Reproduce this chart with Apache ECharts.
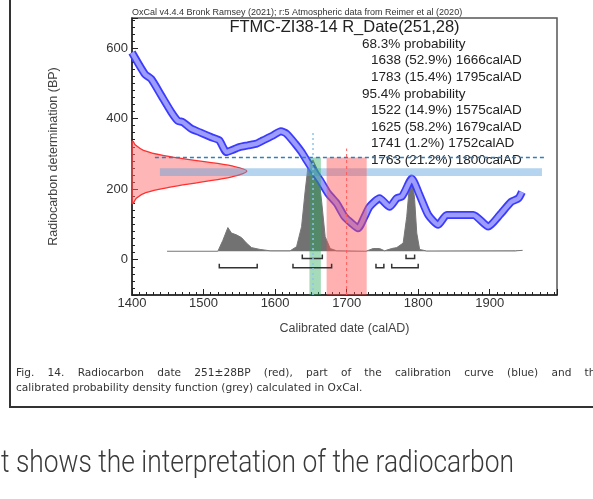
<!DOCTYPE html>
<html>
<head>
<meta charset="utf-8">
<script src="https://cdn.jsdelivr.net/npm/echarts@6/dist/echarts.min.js"></script>
<style>
html, body { margin: 0; padding: 0; background: #fff; overflow: hidden; }
#chart { position: absolute; left: 0; top: 0; width: 593px; height: 499px; }
#frame { position: absolute; left: 9px; top: -10px; width: 620px; height: 416px;
  border-left: 2px solid #333; border-bottom: 2px solid #333; }
.cap { position: absolute; left: 16px; font-family: "DejaVu Sans"; font-size: 10.6px;
  line-height: 12px; color: #333; white-space: nowrap; }
#cap1 { top: 366px; width: 586px; text-align: justify; text-align-last: justify; white-space: normal; }
#cap2 { top: 381px; }
#para { position: absolute; left: 1px; top: 442px; font-family: Roboto; font-weight: 300;
  font-size: 32px; line-height: 38px; color: #3a3a3a; white-space: nowrap; transform-origin: 0 0; }
</style>
</head>
<body>
<div id="chart"></div>
<div id="frame"></div>
<div class="cap" id="cap1">Fig. 14. Radiocarbon date 251±28BP (red), part of the calibration curve (blue) and the</div>
<div class="cap" id="cap2">calibrated probability density function (grey) calculated in OxCal.</div>
<div id="para"><span id="paraText">t shows the interpretation of the radiocarbon</span></div>
<script>
// calibration curve (calAD, BP)
const curveYears = [1400, 1418, 1427, 1441, 1455, 1464, 1471, 1483, 1495, 1511, 1522, 1532, 1539, 1550,
  1562, 1574, 1583, 1597, 1608, 1616, 1628, 1637, 1644, 1653, 1663, 1674, 1686, 1697, 1707, 1716,
  1725, 1732, 1746, 1760, 1770, 1777, 1781, 1791, 1802, 1814, 1828, 1840, 1877, 1898, 1914, 1930, 1940, 1945];
const curveBP = [587, 526, 512, 465, 418, 394, 390, 371, 361, 347, 338, 305, 310, 319,
  324, 329, 338, 352, 364, 357, 329, 305, 282, 254, 225, 188, 160, 122, 103, 89,
  122, 150, 174, 150, 174, 179, 192, 230, 183, 127, 99, 127, 127, 94, 127, 164, 174, 192];

// calibrated probability (grey), relative to the highest peak
const probYears = [1449, 1520, 1527, 1534, 1539, 1546, 1553, 1560, 1567, 1579, 1593, 1621, 1630, 1637,
  1642, 1646, 1653, 1660, 1665, 1670, 1677, 1686, 1727, 1737, 1746, 1753, 1763, 1770, 1779, 1784,
  1788, 1792, 1795, 1798, 1802, 1812, 1936, 1946];
const probValues = [0, 0, 0.12, 0.26, 0.2, 0.18, 0.15, 0.09, 0.04, 0.02, 0.005, 0.005, 0.05, 0.27,
  0.66, 0.93, 1, 0.88, 0.55, 0.16, 0.03, 0.005, 0, 0.03, 0.03, 0.005, 0.03, 0.04, 0.09, 0.38,
  0.75, 0.79, 0.57, 0.2, 0.02, 0.003, 0.005, 0.01];

// radiocarbon date 251±28 (red, drawn along the BP axis)
const dateBP = [160, 175, 190, 205, 220, 235, 251, 265, 280, 295, 310, 325, 335];
const dateProb = [0.01, 0.04, 0.12, 0.32, 0.6, 0.87, 1, 0.88, 0.58, 0.28, 0.1, 0.03, 0.01];

// ranges [from, to, percent]
const range68 = [[1638, 1666, 52.9], [1783, 1795, 15.4]];
const range95 = [[1522, 1575, 14.9], [1625, 1679, 58.2], [1741, 1752, 1.2], [1763, 1800, 21.2]];

const hBand = [1439, 1973, 237, 259];       // light blue band
const greenBand = [1648, 1664, -100, 290];
const redBand = [1672, 1728, -100, 290];
const dashH = [[1432, 290], [1977, 290]];
const dotV = [[1653, -100], [1653, 360]];
const redDashV = [[1700, -100], [1700, 315]];

const font = 'Liberation Sans';
const chart = echarts.init(document.getElementById('chart'));

function rectSeries(r, color, z) {
  return {
    type: 'custom', xAxisIndex: 0, yAxisIndex: 0, z: z, silent: true,
    data: [r],
    renderItem: (params, api) => {
      const a = api.coord([api.value(0), api.value(3)]);
      const b = api.coord([api.value(1), api.value(2)]);
      return { type: 'rect', shape: { x: a[0], y: a[1], width: b[0] - a[0], height: b[1] - a[1] },
        style: { fill: color } };
    }
  };
}

function bracketSeries(ranges, level) {
  return {
    type: 'custom', xAxisIndex: 0, yAxisIndex: 1, z: 6, silent: true,
    data: ranges.map(r => [r[0], r[1], level]),
    renderItem: (params, api) => {
      const a = api.coord([api.value(0), api.value(2)]);
      const b = api.coord([api.value(1), api.value(2)]);
      return { type: 'polyline',
        shape: { points: [[a[0], a[1] - 4], a, b, [b[0], b[1] - 4]] },
        style: { stroke: '#333', lineWidth: 1.5, fill: null } };
    }
  };
}

const textLines = [];
let ty = 45;
const blockFont = '13.5px "' + font + '"';
function addBlock(title, ranges) {
  textLines.push({ type: 'text', left: 362, top: ty - 8,
    style: { text: title, font: blockFont, fill: '#222' } });
  ty += 16.6;
  ranges.forEach(r => {
    textLines.push({ type: 'text', left: 371, top: ty - 8,
      style: { text: r[0] + ' (' + r[2].toFixed(1) + '%) ' + r[1] + 'calAD', font: blockFont, fill: '#222' } });
    ty += 16.6;
  });
}
addBlock('68.3% probability', range68);
addBlock('95.4% probability', range95);

chart.setOption({
  animation: false,
  backgroundColor: '#fff',
  grid: { left: 132, right: 36, top: 18, bottom: 204, show: true, borderColor: '#555', borderWidth: 1.5 },
  xAxis: [{
    type: 'value', min: 1400, max: 1994,
    axisLine: { onZero: false, lineStyle: { color: '#222', width: 1.5 } },
    axisTick: { inside: true, length: 6, lineStyle: { color: '#222' } },
    minorTick: { show: true, splitNumber: 10, length: 3, lineStyle: { color: '#222' } },
    splitLine: { show: false },
    axisLabel: { color: '#333', fontSize: 13, fontFamily: font, margin: 2, showMaxLabel: false,
      formatter: v => String(v) },
    name: 'Calibrated date (calAD)', nameLocation: 'middle', nameGap: 27,
    nameTextStyle: { color: '#444', fontSize: 12.5, fontFamily: font }
  }, { type: 'value', min: 0, max: 3.7, show: false }],
  yAxis: [{
    type: 'value', min: -100, max: 685,
    axisLine: { onZero: false, lineStyle: { color: '#222', width: 1.5 } },
    axisTick: { inside: true, length: 6, lineStyle: { color: '#222' } },
    minorTick: { show: true, splitNumber: 10, length: 3, lineStyle: { color: '#222' } },
    splitLine: { show: false },
    axisLabel: { color: '#333', fontSize: 13, fontFamily: font, margin: 4, showMinLabel: false, showMaxLabel: false,
      formatter: v => String(v) },
    name: 'Radiocarbon determination (BP)', nameLocation: 'middle', nameGap: 72,
    nameTextStyle: { color: '#444', fontSize: 12.5, fontFamily: font }
  }, { type: 'value', min: -0.48, max: 2.56, show: false }],
  graphic: [
    { type: 'text', left: 132, top: 8,
      style: { text: 'OxCal v4.4.4 Bronk Ramsey (2021); r:5 Atmospheric data from Reimer et al (2020)',
        font: '9px "' + font + '"', fill: '#333' } },
    { type: 'text', x: 344.5, y: 27,
      style: { text: 'FTMC-ZI38-14 R_Date(251,28)', font: '16.5px "' + font + '"', fill: '#222',
        align: 'center', verticalAlign: 'middle' } }
  ].concat(textLines),
  series: [
    {
      type: 'line', xAxisIndex: 0, yAxisIndex: 1, z: 2, symbol: 'none', silent: true,
      data: probYears.map((y, i) => [y, probValues[i]]),
      lineStyle: { color: '#777', width: 1 },
      areaStyle: { color: '#727272', opacity: 1 }
    },
    {
      type: 'custom', xAxisIndex: 1, yAxisIndex: 0, z: 3, silent: true,
      data: dateBP.map((b, i) => [dateProb[i], b]),
      renderItem: (params, api) => {
        if (params.dataIndex !== 0) return null;
        const pts = [api.coord([0, dateBP[0]])];
        dateBP.forEach((b, i) => pts.push(api.coord([dateProb[i], b])));
        pts.push(api.coord([0, dateBP[dateBP.length - 1]]));
        return { type: 'polygon', shape: { points: pts, smooth: 0.4 },
          style: { fill: 'rgba(255,110,110,0.5)', stroke: '#ff3030', lineWidth: 1.3 } };
      }
    },
    {
      type: 'line', z: 4, symbol: 'none', silent: true, smooth: 0.2,
      data: curveYears.map((y, i) => [y, curveBP[i]]),
      lineStyle: { color: '#3b3bff', width: 8 }
    },
    {
      type: 'line', z: 4, symbol: 'none', silent: true, smooth: 0.2,
      data: curveYears.map((y, i) => [y, curveBP[i]]),
      lineStyle: { color: '#9d9dff', width: 4.5 }
    },
    rectSeries(hBand, 'rgba(90,160,220,0.45)', 5),
    rectSeries(greenBand, 'rgba(40,170,90,0.42)', 5),
    rectSeries(redBand, 'rgba(255,80,80,0.45)', 5),
    {
      type: 'line', z: 6, symbol: 'none', silent: true, data: dashH,
      lineStyle: { color: '#2f7fc0', width: 1.5, type: [4, 3] }
    },
    {
      type: 'line', z: 6, symbol: 'none', silent: true, data: dotV,
      lineStyle: { color: '#8cc4ec', width: 1.5, type: [2, 3] }
    },
    {
      type: 'line', z: 6, symbol: 'none', silent: true, data: redDashV,
      lineStyle: { color: '#ff5a5a', width: 1, type: [3, 3] }
    },
    bracketSeries(range68, -0.08),
    bracketSeries(range95, -0.18)
  ]
});

// squeeze the body text to the condensed width of the page
const span = document.getElementById('paraText');
const w = span.getBoundingClientRect().width;
document.getElementById('para').style.transform = 'scaleX(' + (513 / w) + ')';
</script>
</body>
</html>
